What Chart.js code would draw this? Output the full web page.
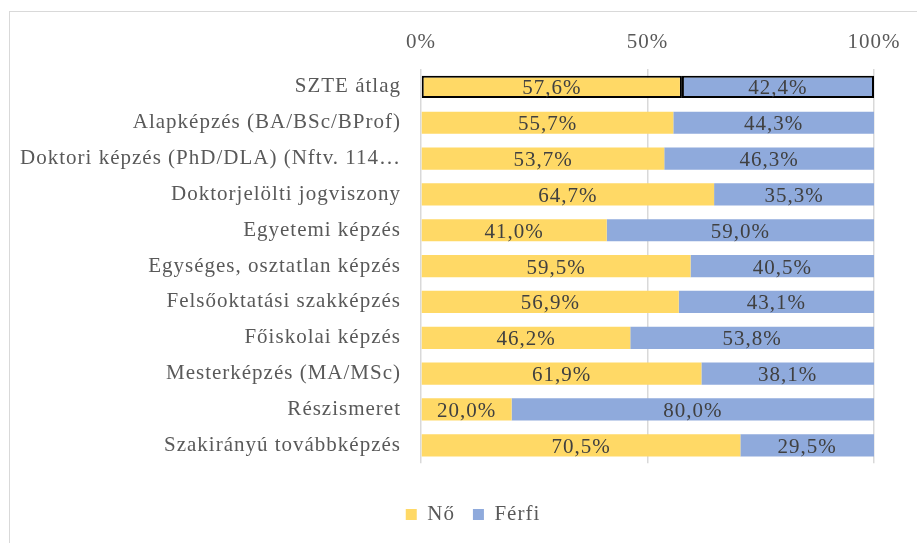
<!DOCTYPE html>
<html>
<head>
<meta charset="utf-8">
<script src="https://cdn.jsdelivr.net/npm/chart.js@4/dist/chart.umd.min.js"></script>
<style>
    html, body { margin: 0; padding: 0; background: #fff; overflow: hidden; }
    .frame { position: absolute; left: 9px; top: 11px; width: 930px; height: 560px; border: 1px solid #d9d9d9; }
    .wrap { position: absolute; left: 0; top: 0; width: 917px; height: 543px; }
</style>
</head>
<body>
<div class="frame"></div>
<div class="wrap"><canvas id="myChart"></canvas></div>
<script>
const categories = [
    'SZTE átlag',
    'Alapképzés (BA/BSc/BProf)',
    'Doktori képzés (PhD/DLA) (Nftv. 114…',
    'Doktorjelölti jogviszony',
    'Egyetemi képzés',
    'Egységes, osztatlan képzés',
    'Felsőoktatási szakképzés',
    'Főiskolai képzés',
    'Mesterképzés (MA/MSc)',
    'Részismeret',
    'Szakirányú továbbképzés'
];
const no_values    = [57.6, 55.7, 53.7, 64.7, 41.0, 59.5, 56.9, 46.2, 61.9, 20.0, 70.5];
const ferfi_values = [42.4, 44.3, 46.3, 35.3, 59.0, 40.5, 43.1, 53.8, 38.1, 80.0, 29.5];
const tick_values  = [0, 50, 100];

let no_warna = '#FFD966';
let ferfi_warna = '#8FAADC';
let font_family = '"Liberation Serif", "Times New Roman", serif';

// first row (average) gets a black frame
let borders = categories.map((c, i) => i === 0 ? 2 : 0);

// letter spacing so the serif text is as wide as in the original
const spacing = {
    id: 'spacing',
    beforeUpdate(chart) { chart.ctx.letterSpacing = '1px'; },
    beforeDraw(chart) { chart.ctx.letterSpacing = '1px'; },
    afterLayout(chart) {
        // legend sits a bit right of the canvas centre
        chart.legend.left += 36;
        chart.legend.right += 36;
    }
};

// value labels in the middle of every segment
const valueLabels = {
    id: 'valueLabels',
    afterDatasetsDraw(chart) {
        let ctx = chart.ctx;
        ctx.save();
        ctx.letterSpacing = '1px';
        ctx.font = '21px ' + font_family;
        ctx.fillStyle = '#404040';
        ctx.textAlign = 'center';
        ctx.textBaseline = 'middle';
        chart.data.datasets.forEach((ds, di) => {
            chart.getDatasetMeta(di).data.forEach((bar, i) => {
                let p = bar.getProps(['x', 'y', 'base'], true);
                let cx = (p.x + p.base) / 2;
                let txt = ds.data[i].toFixed(1).replace('.', ',') + '%';
                ctx.fillText(txt, cx, p.y + 2);
            });
        });
        ctx.restore();
    }
};

var ctx = document.getElementById('myChart').getContext('2d');

new Chart(ctx, {
    type: 'bar',
    data: {
        labels: categories,
        datasets: [{
            label: 'Nő',
            data: no_values,
            backgroundColor: no_warna,
            borderColor: '#000',
            borderWidth: borders,
            borderSkipped: false
        }, {
            label: 'Férfi',
            data: ferfi_values,
            backgroundColor: ferfi_warna,
            borderColor: '#000',
            borderWidth: borders,
            borderSkipped: false
        }]
    },
    options: {
        indexAxis: 'y',
        responsive: true,
        maintainAspectRatio: false,
        animation: false,
        events: [],
        layout: { padding: { top: 0, right: 43, bottom: 8, left: 0 } },
        datasets: {
            bar: { categoryPercentage: 1, barPercentage: 0.62 }
        },
        scales: {
            x: {
                position: 'top',
                stacked: true,
                min: 0,
                max: 100,
                afterFit: function (scale) { scale.height = 69; },
                afterBuildTicks: function (scale) {
                    scale.ticks = tick_values.map(v => ({ value: v }));
                },
                ticks: {
                    padding: 14,
                    color: '#595959',
                    font: { family: font_family, size: 21 },
                    callback: v => v + '%'
                },
                grid: { color: '#d9d9d9', lineWidth: 1.5, drawTicks: false },
                border: { display: false }
            },
            y: {
                stacked: true,
                afterFit: function (scale) { scale.width = 421; },
                ticks: {
                    padding: 12,
                    color: '#595959',
                    font: { family: font_family, size: 21 },
                    autoSkip: false
                },
                grid: { display: false },
                border: { display: false }
            }
        },
        plugins: {
            legend: {
                position: 'bottom',
                title: {
                    display: true,
                    text: ' ',
                    padding: 0,
                    font: { family: font_family, size: 19 }
                },
                labels: {
                    boxWidth: 11,
                    boxHeight: 11,
                    padding: 18,
                    color: '#595959',
                    font: { family: font_family, size: 21 },
                    generateLabels: function (chart) {
                        let items = Chart.defaults.plugins.legend.labels.generateLabels(chart);
                        items.forEach(it => { it.lineWidth = 0; });
                        return items;
                    }
                }
            },
            tooltip: { enabled: false }
        }
    },
    plugins: [spacing, valueLabels]
});
</script>
</body>
</html>
